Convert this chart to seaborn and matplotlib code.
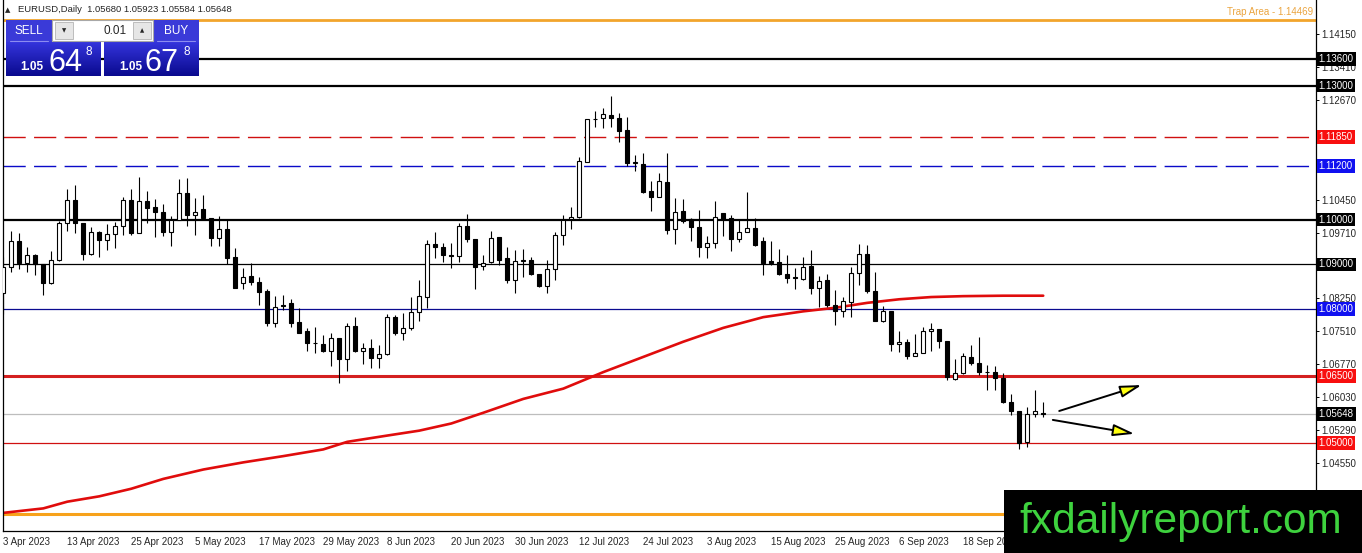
import numpy as np
import seaborn as sns
import matplotlib
import matplotlib.pyplot as plt
from matplotlib.patches import Rectangle
from matplotlib.colors import LinearSegmentedColormap

sns.set_style('white')
matplotlib.rcParams['font.family'] = ['Liberation Sans', 'DejaVu Sans']

# EURUSD daily candles, 3 Apr 2023 .. 2 Oct 2023
opens = [1.0837, 1.0895, 1.0952, 1.0904, 1.0922, 1.0902, 1.0859, 1.0910, 1.0992, 1.1045,
         1.0992, 1.0924, 1.0972, 1.0954, 1.0969, 1.0986, 1.1045, 1.0971, 1.1041, 1.1028,
         1.1018, 1.0973, 1.1000, 1.1059, 1.1011, 1.1023, 1.1005, 1.0960, 1.0980, 1.0916,
         1.0859, 1.0874, 1.0861, 1.0840, 1.0769, 1.0810, 1.0813, 1.0771, 1.0751, 1.0725,
         1.0723, 1.0707, 1.0735, 1.0689, 1.0762, 1.0707, 1.0712, 1.0691, 1.0699, 1.0782,
         1.0747, 1.0757, 1.0793, 1.0828, 1.0945, 1.0940, 1.0920, 1.0918, 1.0985, 1.0956,
         1.0897, 1.0905, 1.0962, 1.0914, 1.0866, 1.0907, 1.0911, 1.0878, 1.0852, 1.0889,
         1.0965, 1.1001, 1.1007, 1.1130, 1.1226, 1.1227, 1.1234, 1.1227, 1.1201, 1.1128,
         1.1125, 1.1064, 1.1052, 1.1084, 1.0979, 1.1019, 1.1002, 1.0984, 1.0938, 1.0949,
         1.1014, 1.1003, 1.0956, 1.0973, 1.0981, 1.0952, 1.0908, 1.0906, 1.0879, 1.0871,
         1.0867, 1.0897, 1.0847, 1.0865, 1.0809, 1.0796, 1.0817, 1.0880, 1.0923, 1.0841,
         1.0774, 1.0796, 1.0721, 1.0726, 1.0696, 1.0701, 1.0751, 1.0755, 1.0729, 1.0644,
         1.0658, 1.0692, 1.0679, 1.0660, 1.0660, 1.0645, 1.0593, 1.0572, 1.0502, 1.0565,
         1.0568]
highs = [1.0916, 1.0974, 1.0970, 1.0938, 1.0924, 1.0902, 1.0930, 1.0998, 1.1068, 1.1077,
         1.0992, 1.0983, 1.0975, 1.0990, 1.0995, 1.1050, 1.1068, 1.1096, 1.1064, 1.1046,
         1.1036, 1.1008, 1.1091, 1.1093, 1.1048, 1.1055, 1.1005, 1.1008, 1.1000, 1.0936,
         1.0891, 1.0904, 1.0872, 1.0846, 1.0829, 1.0831, 1.0822, 1.0803, 1.0757, 1.0760,
         1.0742, 1.0747, 1.0735, 1.0770, 1.0782, 1.0725, 1.0732, 1.0720, 1.0789, 1.0787,
         1.0791, 1.0826, 1.0865, 1.0955, 1.0972, 1.0949, 1.0949, 1.0992, 1.1012, 1.0956,
         1.0921, 1.0975, 1.0962, 1.0940, 1.0932, 1.0934, 1.0916, 1.0878, 1.0910, 1.0973,
         1.1010, 1.1028, 1.1141, 1.1225, 1.1244, 1.1249, 1.1277, 1.1240, 1.1229, 1.1145,
         1.1149, 1.1087, 1.1105, 1.1150, 1.1049, 1.1046, 1.1003, 1.1022, 1.0964, 1.1042,
         1.1016, 1.1011, 1.1000, 1.1063, 1.1005, 1.0962, 1.0952, 1.0934, 1.0920, 1.0893,
         1.0916, 1.0932, 1.0873, 1.0879, 1.0843, 1.0828, 1.0894, 1.0946, 1.0944, 1.0882,
         1.0807, 1.0796, 1.0750, 1.0733, 1.0744, 1.0759, 1.0770, 1.0755, 1.0729, 1.0688,
         1.0701, 1.0720, 1.0737, 1.0675, 1.0673, 1.0656, 1.0610, 1.0572, 1.0580, 1.0619,
         1.0592]
lows = [1.0789, 1.0884, 1.0889, 1.0884, 1.0877, 1.0832, 1.0857, 1.0908, 1.0975, 1.0971,
        1.0909, 1.0921, 1.0917, 1.0932, 1.0937, 1.0966, 1.0965, 1.0971, 1.0992, 1.0962,
        1.0964, 1.0942, 1.1000, 1.0986, 1.0966, 1.1002, 1.0941, 1.0941, 1.0900, 1.0848,
        1.0846, 1.0854, 1.0809, 1.0762, 1.0760, 1.0798, 1.0760, 1.0747, 1.0707, 1.0701,
        1.0705, 1.0673, 1.0635, 1.0662, 1.0703, 1.0677, 1.0668, 1.0669, 1.0697, 1.0742,
        1.0731, 1.0753, 1.0773, 1.0803, 1.0914, 1.0906, 1.0893, 1.0906, 1.0951, 1.0844,
        1.0888, 1.0904, 1.0898, 1.0859, 1.0835, 1.0871, 1.0876, 1.0850, 1.0835, 1.0865,
        1.0943, 1.0979, 1.1003, 1.1129, 1.1207, 1.1205, 1.1208, 1.1175, 1.1120, 1.1108,
        1.1059, 1.1020, 1.1052, 1.0968, 1.0945, 1.0992, 1.0953, 1.0917, 1.0914, 1.0936,
        1.0964, 1.0929, 1.0951, 1.0973, 1.0941, 1.0876, 1.0899, 1.0876, 1.0858, 1.0845,
        1.0865, 1.0833, 1.0804, 1.0804, 1.0765, 1.0783, 1.0783, 1.0854, 1.0835, 1.0774,
        1.0772, 1.0707, 1.0703, 1.0688, 1.0694, 1.0701, 1.0706, 1.0712, 1.0641, 1.0641,
        1.0655, 1.0675, 1.0653, 1.0618, 1.0618, 1.0589, 1.0563, 1.0488, 1.0492, 1.0559,
        1.0558]
closes = [1.0895, 1.0952, 1.0904, 1.0922, 1.0900, 1.0859, 1.0911, 1.0992, 1.1045, 1.0992,
          1.0924, 1.0972, 1.0954, 1.0969, 1.0987, 1.1045, 1.0971, 1.1041, 1.1027, 1.1018,
          1.0973, 1.1000, 1.1059, 1.1011, 1.1018, 1.1005, 1.0960, 1.0980, 1.0915, 1.0848,
          1.0872, 1.0861, 1.0839, 1.0769, 1.0804, 1.0807, 1.0769, 1.0747, 1.0725, 1.0725,
          1.0707, 1.0735, 1.0689, 1.0762, 1.0706, 1.0712, 1.0691, 1.0699, 1.0782, 1.0747,
          1.0757, 1.0793, 1.0830, 1.0945, 1.0940, 1.0920, 1.0919, 1.0985, 1.0956, 1.0894,
          1.0904, 1.0960, 1.0910, 1.0865, 1.0908, 1.0911, 1.0878, 1.0852, 1.0889, 1.0965,
          1.1000, 1.1007, 1.1131, 1.1225, 1.1225, 1.1236, 1.1227, 1.1199, 1.1128, 1.1128,
          1.1063, 1.1052, 1.1087, 1.0976, 1.1017, 1.0997, 1.0983, 1.0938, 1.0947, 1.1007,
          1.1001, 1.0956, 1.0973, 1.0981, 1.0944, 1.0904, 1.0904, 1.0878, 1.0870, 1.0870,
          1.0895, 1.0847, 1.0864, 1.0809, 1.0796, 1.0819, 1.0880, 1.0923, 1.0841, 1.0774,
          1.0796, 1.0721, 1.0726, 1.0696, 1.0701, 1.0751, 1.0755, 1.0729, 1.0649, 1.0656,
          1.0694, 1.0679, 1.0660, 1.0660, 1.0645, 1.0593, 1.0571, 1.0501, 1.0565, 1.0571,
          1.0565]

# moving average (red), read at a subset of bars
ma_bar = [0, 5, 8, 12, 16, 20, 25, 30, 35, 40, 43, 48, 52, 56, 60, 65, 70, 75, 80, 85,
          90, 95, 100, 104, 108, 112, 116, 120, 125, 130]
ma_val = [1.0344, 1.0354, 1.0369, 1.0381, 1.0398, 1.0420, 1.0441, 1.0457, 1.0471, 1.0486,
          1.0503, 1.0517, 1.0528, 1.0544, 1.0568, 1.0599, 1.0622, 1.0659, 1.0693, 1.0727,
          1.0758, 1.0782, 1.0795, 1.0803, 1.0814, 1.0822, 1.0827, 1.0829, 1.0830, 1.0830]

date_labels = ["3 Apr 2023", "13 Apr 2023", "25 Apr 2023", "5 May 2023", "17 May 2023",
               "29 May 2023", "8 Jun 2023", "20 Jun 2023", "30 Jun 2023", "12 Jul 2023",
               "24 Jul 2023", "3 Aug 2023", "15 Aug 2023", "25 Aug 2023", "6 Sep 2023",
               "18 Sep 2023"]
price_ticks = [1.04550, 1.05290, 1.06030, 1.06770, 1.07510, 1.08250, 1.09710, 1.10450,
               1.12670, 1.13410, 1.14150]

# horizontal levels: value, colour, width, style, box colour
levels = [(1.14469, '#F2A52C', 2.0, '-', None),
          (1.13600, 'black', 1.6, '-', 'black'),
          (1.13000, 'black', 1.6, '-', 'black'),
          (1.11850, '#D01010', 1.0, 'dash', '#F80F0F'),
          (1.11200, '#0A0AC8', 1.0, 'dash', '#1010F0'),
          (1.10000, 'black', 1.6, '-', 'black'),
          (1.09000, 'black', 0.9, '-', 'black'),
          (1.08000, '#0A0A90', 0.9, '-', '#1010F0'),
          (1.06500, '#D42020', 2.2, '-', '#F80F0F'),
          (1.05648, '#BDBDBD', 0.9, '-', 'black'),
          (1.05000, '#D01010', 0.9, '-', '#F80F0F'),
          (1.03410, '#F7A21B', 2.2, '-', None)]

bid = [1.05680, 1.05923, 1.05584, 1.05648]
arrow_up = ((132.0, 1.0572), (142.3, 1.0630))
arrow_down = ((131.2, 1.0552), (141.4, 1.0521))

o, h, l, c = map(np.array, (opens, highs, lows, closes))
idx = np.arange(len(o))
up = c >= o

fig = plt.figure(figsize=(13.62, 5.53), dpi=100)
ax = fig.add_axes([3 / 1362, 22 / 553, 1313 / 1362, 531 / 553])
ax.set_xlim(-0.04, 164.1)
ax.set_ylim(1.03034, 1.14918)

for val, col, lw, ls, box in levels:
    if ls == 'dash':
        ax.axhline(val, color=col, lw=lw, dashes=(16, 6), zorder=1)
    else:
        ax.axhline(val, color=col, lw=lw, zorder=1)

sns.lineplot(x=ma_bar, y=ma_val, color='#E00C0C', lw=1.9, ax=ax, zorder=2)

ax.vlines(idx, l, h, color='black', lw=0.8, zorder=3)
body_lo = np.minimum(o, c)
body_h = np.maximum(np.abs(c - o), 0.00002)
ax.bar(idx[up], body_h[up], bottom=body_lo[up], width=0.46, color='white',
       edgecolor='black', lw=0.8, zorder=4)
ax.bar(idx[~up], body_h[~up], bottom=body_lo[~up], width=0.46, color='black',
       edgecolor='black', lw=0.8, zorder=4)

for start, tip in (arrow_up, arrow_down):
    ax.annotate('', xy=tip, xytext=start,
                arrowprops=dict(arrowstyle='-|>,head_length=0.65,head_width=0.18',
                                fc='#FFFF10', ec='black', lw=1.4, mutation_scale=20,
                                shrinkA=0, shrinkB=0), zorder=5)

ax.text(163.8, 1.14469 + 0.0006, 'Trap Area - 1.14469', color='#EBA540', fontsize=7,
        ha='right', va='bottom')

# axes look like the terminal
for side in ['left', 'right', 'bottom']:
    ax.spines[side].set_color('black')
    ax.spines[side].set_linewidth(0.9)
ax.spines['top'].set_visible(False)
ax.yaxis.tick_right()
ax.set_yticks(price_ticks)
ax.set_yticklabels(['%.5f' % v for v in price_ticks], fontsize=7)
ax.set_xticks(np.arange(0, 8 * len(date_labels), 8))
ax.set_xticklabels(date_labels, fontsize=7, ha='left')
ax.tick_params(axis='both', direction='out', length=2.5, width=0.7, pad=1.5, color='black')
ax.set_xlabel('')
ax.set_ylabel('')

for val, col, lw, ls, box in levels:
    if box is None:
        continue
    ax.annotate('%.5f' % val, xy=(1, val), xycoords=('axes fraction', 'data'),
                xytext=(2, 0), textcoords='offset points', color='white', fontsize=7,
                va='center', ha='left', annotation_clip=False,
                bbox=dict(boxstyle='square,pad=0.18', fc=box, ec='none'))

# overlay in pixel coordinates: trade panel, header, watermark
ov = fig.add_axes([0, 0, 1, 1])
ov.set_xlim(0, 1362)
ov.set_ylim(553, 0)
ov.axis('off')
ov.patch.set_visible(False)
ov.set_zorder(10)

ov.text(5, 10, '▲', fontsize=5, va='center', ha='left', family=['DejaVu Sans'])
ov.text(18, 10, 'EURUSD,Daily  ' + ' '.join('%.5f' % v for v in bid), fontsize=6.8,
        va='center', ha='left')

grad = LinearSegmentedColormap.from_list('mt', ['#3434DC', '#0A0A8E'])
g = np.linspace(0, 1, 64).reshape(-1, 1)
for x0, x1 in ((6, 101), (104, 199)):
    ov.imshow(g, cmap=grad, extent=(x0, x1, 76, 42), aspect='auto', zorder=1)
ov.add_patch(Rectangle((6, 20), 46, 22, fc='#3A3AD8', ec='none', zorder=1))
ov.add_patch(Rectangle((153, 20), 46, 22, fc='#3A3AD8', ec='none', zorder=1))
ov.plot([10, 48], [41, 41], color='#8C8CF0', lw=0.8, zorder=2)
ov.plot([157, 195], [41, 41], color='#8C8CF0', lw=0.8, zorder=2)
ov.add_patch(Rectangle((52, 20), 101, 21, fc='white', ec='#A8A8A8', lw=0.8, zorder=1))
ov.add_patch(Rectangle((55, 22), 18, 17, fc='#E6E6E6', ec='#B4B4B4', lw=0.6, zorder=2))
ov.add_patch(Rectangle((133, 22), 18, 17, fc='#E6E6E6', ec='#B4B4B4', lw=0.6, zorder=2))
ov.text(64, 30.5, '▼', fontsize=4, ha='center', va='center', family=['DejaVu Sans'], zorder=3)
ov.text(142, 30.5, '▲', fontsize=4, ha='center', va='center', family=['DejaVu Sans'], zorder=3)
ov.text(127, 31, '0.01', fontsize=8.5, ha='right', va='center', zorder=3)
ov.text(29, 31, 'SELL', fontsize=8.5, color='white', ha='center', va='center', zorder=3)
ov.text(176, 31, 'BUY', fontsize=8.5, color='white', ha='center', va='center', zorder=3)
for x_small, x_big, x_sup, big in ((20, 48, 86, '64'), (119, 145, 184, '67')):
    ov.text(x_small, 70, '1.05', fontsize=8.5, color='white', ha='left', va='baseline',
            fontweight='bold', zorder=3)
    ov.text(x_big, 71, big, fontsize=22, color='white', ha='left', va='baseline', zorder=3)
    ov.text(x_sup, 55, '8', fontsize=8.5, color='white', ha='left', va='baseline', zorder=3)

ov.add_patch(Rectangle((1004, 490), 358, 63, fc='black', ec='none', zorder=1))
ov.text(1019, 533, 'fxdailyreport.com', color='#3ED23E', fontsize=30.5, ha='left',
        va='baseline', zorder=2)

fig.savefig('out.png', dpi=100, facecolor='white')
